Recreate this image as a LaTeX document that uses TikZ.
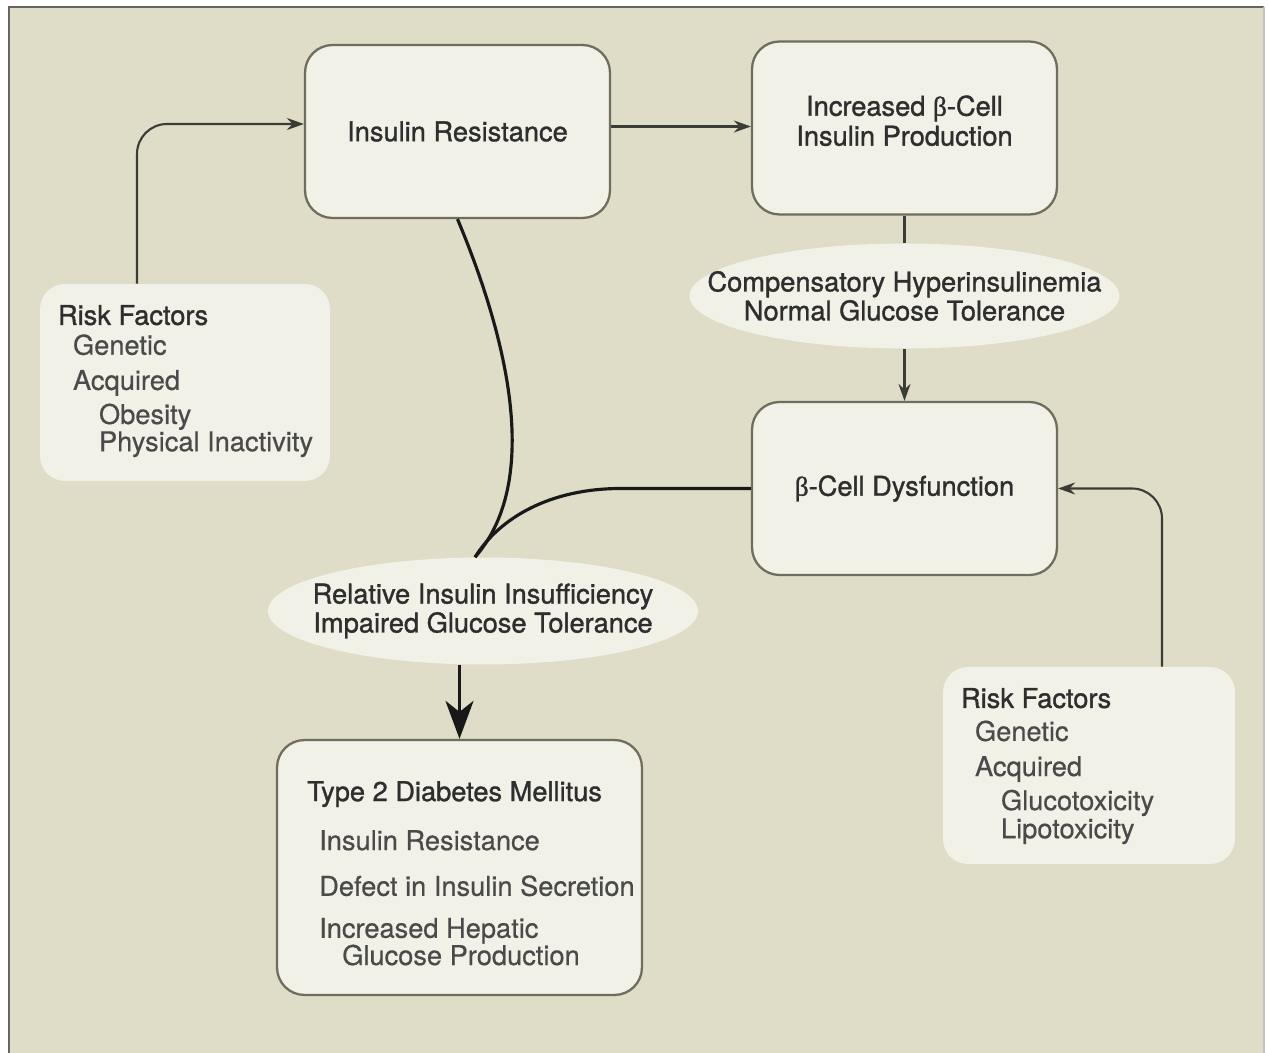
\documentclass[tikz,border=0pt]{standalone}
\usepackage{fontspec}
\setmainfont{TeX Gyre Heros}[UprightFeatures={FakeBold=0.5}]
\newfontfamily\medfont{TeX Gyre Heros}[UprightFeatures={FakeBold=1.2}]
\newfontfamily\grk{Liberation Serif}[UprightFeatures={FakeBold=1.2}]
\usetikzlibrary{shapes.geometric,arrows.meta}

\definecolor{bgtan}{HTML}{DFDCC8}
\definecolor{boxfill}{HTML}{F2F1E7}
\definecolor{boxline}{HTML}{6E6D5E}
\definecolor{txtdark}{HTML}{2E2E2E}
\definecolor{txtgray}{HTML}{4A4A4A}
\definecolor{linkgray}{HTML}{3C3C36}
\definecolor{framegray}{HTML}{66665F}

\tikzset{
  stagebox/.style={draw=boxline, line width=1.3pt, fill=boxfill, rounded corners=0.55cm,
    minimum width=6.1cm, minimum height=3.46cm, align=center, text=txtdark,
    font=\fontsize{15.5}{17}\medfont},
  riskbox/.style={fill=boxfill, rounded corners=0.5cm, minimum width=5.8cm, minimum height=3.94cm},
  stateell/.style={ellipse, fill=boxfill, inner xsep=-1cm, inner ysep=0pt,
    minimum width=8.6cm, minimum height=2.1cm, align=center, text=txtdark,
    font=\fontsize{15.5}{16.5}\medfont},
  listtxt/.style={anchor=north west, align=left, inner sep=0pt, text=txtgray,
    font=\fontsize{15.5}{15.5}\selectfont},
  link/.style={draw=linkgray, line width=1.2pt, -{Stealth[length=0.34cm,width=0.24cm]}},
  plainlink/.style={draw=linkgray, line width=1.2pt},
  thickpath/.style={draw=black!90, line width=1.8pt},
}

\begin{document}
\begin{tikzpicture}[x=0.02cm, y=-0.02cm]
  \useasboundingbox (0,0) rectangle (1268,1053);
  % background and frame
  \fill[white] (0,0) rectangle (1268,1053);
  \fill[bgtan] (9,7) rectangle (1264,1053);
  \draw[framegray, line width=1.6pt] (9,1053) -- (9,7) -- (1264,7);
  \draw[framegray!40, line width=1pt] (1264,7) -- (1264,1053);

  % === stages ===
  \node[stagebox] (ir) at (457.5,131.5) {Insulin Resistance};
  \node[stagebox, text depth=0.3cm] (inc) at (904.5,128) {Increased {\grk β}-Cell\\Insulin Production};
  \node[stateell] (ell1) at (904.5,296) {Compensatory Hyperinsulinemia\\Normal Glucose Tolerance};
  \node[stagebox] (dys) at (904.5,488.5) {{\grk β}-Cell Dysfunction};
  \node[stateell, minimum height=2.14cm] (ell2) at (483,611) {Relative Insulin Insufficiency\\Impaired Glucose Tolerance};
  \node[stagebox, minimum width=7.3cm, minimum height=5.1cm] (t2) at (459.5,867.5) {};

  % === risk factors ===
  \node[riskbox] (rfl) at (185,382.5) {};
  \node[riskbox, minimum width=5.84cm] (rfr) at (1089,765.5) {};

  \node[listtxt] (rfltxt) at ([xshift=0.36cm,yshift=-0.42cm]rfl.north west)
    {{\color{txtdark}\medfont Risk Factors}\\[1.5pt]
     \hspace*{0.3cm}Genetic\\[4.5pt]
     \hspace*{0.3cm}Acquired\\[3.9pt]
     \hspace*{0.82cm}Obesity\\
     \hspace*{0.82cm}Physical Inactivity};
  \node[listtxt] (rfrtxt) at ([xshift=0.36cm,yshift=-0.42cm]rfr.north west)
    {{\color{txtdark}\medfont Risk Factors}\\[3.3pt]
     \hspace*{0.28cm}Genetic\\[4.5pt]
     \hspace*{0.28cm}Acquired\\[3.9pt]
     \hspace*{0.8cm}Glucotoxicity\\[0.5pt]
     \hspace*{0.8cm}Lipotoxicity};
  \node[listtxt] (t2txt) at ([xshift=0.62cm,yshift=-0.84cm]t2.north west)
    {{\color{txtdark}\medfont Type 2 Diabetes Mellitus}\\[12.4pt]
     \hspace*{0.24cm}Insulin Resistance\\[10.5pt]
     \hspace*{0.24cm}Defect in Insulin Secretion\\[8.4pt]
     \hspace*{0.24cm}Increased Hepatic\\
     \hspace*{0.7cm}Glucose Production};

  % === connectors ===
  \draw[link, rounded corners=0.6cm] ([xshift=-0.96cm]rfl.north) |- ([yshift=0.15cm]ir.west);
  \draw[link] ([yshift=0.1cm]ir.east) -- ([yshift=0.1cm]ir.east -| inc.west);
  \draw[plainlink] (inc.south) -- (ell1.north);
  \draw[link] (ell1.south) -- (dys.north);
  \draw[link, rounded corners=0.6cm] ([xshift=1.46cm]rfr.north) |- (dys.east);

  % converging paths
  \coordinate (meet) at ([xshift=-0.16cm]ell2.north);
  \draw[thickpath] (ir.south) .. controls +(42,100) and +(72,-82) .. (meet);
  \draw[thickpath] (dys.west) -- ++(-130,0) .. controls +(-70,0) and +(25,-40) .. (meet);
  \draw[thickpath, -{Stealth[length=0.76cm,width=0.56cm,inset=0.22cm]}]
    (ell2.south -| t2.north) -- (t2.north);
\end{tikzpicture}
\end{document}
